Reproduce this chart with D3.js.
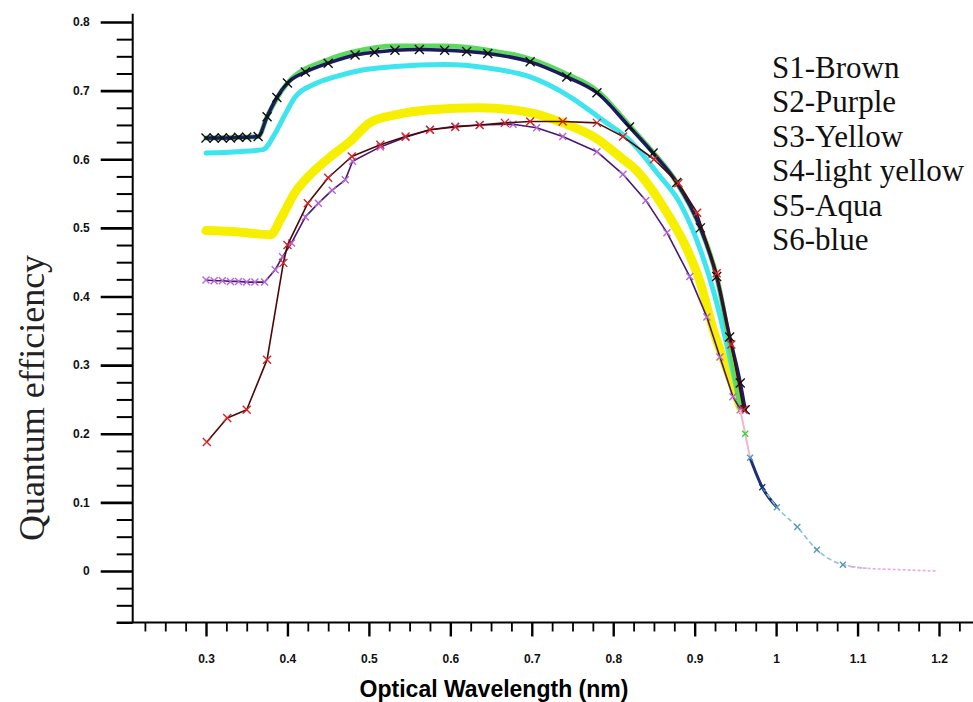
<!DOCTYPE html>
<html>
<head>
<meta charset="utf-8">
<script src="https://cdn.jsdelivr.net/npm/d3@7"></script>
<style>
  body { margin: 0; background: #fff; }
  svg { display: block; }
  .tick text { font-family: "Liberation Sans", Arial, sans-serif; font-weight: bold; font-size: 12px; fill: #111; }
</style>
</head>
<body>
<svg id="chart" width="973" height="702"></svg>
<script>
const WIDTH = 973, HEIGHT = 702;

// wavelength (nm as labelled) / quantum efficiency
const wlS1 = [0.301, 0.326, 0.35, 0.375, 0.395, 0.40, 0.425, 0.45, 0.479, 0.514, 0.545, 0.575, 0.606, 0.636, 0.667, 0.698, 0.738, 0.78, 0.812, 0.85, 0.88, 0.903, 0.927, 0.945, 0.96];
const qeS1 = [0.188, 0.223, 0.235, 0.308, 0.449, 0.475, 0.536, 0.573, 0.604, 0.621, 0.633, 0.643, 0.647, 0.65, 0.653, 0.655, 0.655, 0.653, 0.633, 0.600, 0.565, 0.522, 0.434, 0.33, 0.235];

const wlS2 = [0.30, 0.31, 0.32, 0.33, 0.34, 0.35, 0.36, 0.372, 0.385, 0.394, 0.405, 0.422, 0.438, 0.455, 0.471, 0.48, 0.514, 0.545, 0.575, 0.606, 0.636, 0.677, 0.706, 0.738, 0.78, 0.812, 0.84, 0.866, 0.894, 0.915, 0.931, 0.947, 0.956];
const qeS2 = [0.424, 0.423, 0.423, 0.422, 0.422, 0.421, 0.421, 0.421, 0.439, 0.458, 0.478, 0.516, 0.536, 0.555, 0.57, 0.597, 0.618, 0.632, 0.643, 0.648, 0.65, 0.651, 0.646, 0.633, 0.611, 0.578, 0.54, 0.493, 0.429, 0.37, 0.312, 0.254, 0.235];

const wlS3 = [0.30, 0.34, 0.379, 0.393, 0.409, 0.425, 0.45, 0.477, 0.501, 0.534, 0.575, 0.636, 0.698, 0.738, 0.78, 0.812, 0.824, 0.866, 0.891, 0.907, 0.923, 0.94, 0.956];
const qeS3 = [0.496, 0.494, 0.49, 0.516, 0.551, 0.574, 0.601, 0.626, 0.653, 0.665, 0.672, 0.675, 0.668, 0.653, 0.63, 0.60, 0.589, 0.522, 0.468, 0.42, 0.351, 0.293, 0.239];

const wlS4 = [0.30, 0.364, 0.375, 0.40, 0.45, 0.483, 0.532, 0.593, 0.646, 0.698, 0.743, 0.78, 0.82, 0.849, 0.878, 0.907, 0.927, 0.956];
const qeS4 = [0.631, 0.633, 0.662, 0.711, 0.745, 0.757, 0.765, 0.765, 0.759, 0.746, 0.724, 0.70, 0.649, 0.61, 0.566, 0.50, 0.429, 0.235];

const wlS5 = [0.30, 0.34, 0.37, 0.385, 0.397, 0.409, 0.434, 0.458, 0.492, 0.532, 0.593, 0.646, 0.698, 0.747, 0.787, 0.82, 0.854, 0.882, 0.907, 0.925, 0.941, 0.952, 0.958];
const qeS5 = [0.609, 0.611, 0.614, 0.638, 0.665, 0.69, 0.71, 0.72, 0.73, 0.735, 0.738, 0.733, 0.72, 0.691, 0.657, 0.628, 0.58, 0.536, 0.468, 0.40, 0.322, 0.264, 0.235];

const wlS6 = [0.30, 0.31, 0.32, 0.33, 0.34, 0.35, 0.364, 0.375, 0.387, 0.40, 0.422, 0.45, 0.483, 0.507, 0.532, 0.562, 0.593, 0.62, 0.646, 0.698, 0.743, 0.78, 0.82, 0.849, 0.878, 0.907, 0.927, 0.943, 0.956, 0.962];
const qeS6 = [0.631, 0.631, 0.631, 0.631, 0.632, 0.632, 0.633, 0.662, 0.69, 0.711, 0.727, 0.74, 0.752, 0.756, 0.759, 0.76, 0.759, 0.757, 0.754, 0.742, 0.72, 0.697, 0.647, 0.609, 0.566, 0.50, 0.429, 0.341, 0.274, 0.235];

// faint common tail beyond the bundle
const tailWl = [0.956, 0.962, 0.968, 0.983, 1.001, 1.026, 1.05, 1.082, 1.111, 1.15, 1.198];
const tailQe = [0.235, 0.20, 0.165, 0.122, 0.093, 0.064, 0.031, 0.009, 0.004, 0.002, 0.0];

const legendLabels = ["S1-Brown", "S2-Purple", "S3-Yellow", "S4-light yellow", "S5-Aqua", "S6-blue"];
const xTicks = [0.3, 0.4, 0.5, 0.6, 0.7, 0.8, 0.9, 1, 1.1, 1.2];
const xTickLabels = ["0.3", "0.4", "0.5", "0.6", "0.7", "0.8", "0.9", "1", "1.1", "1.2"];
const yTicks = [0, 0.1, 0.2, 0.3, 0.4, 0.5, 0.6, 0.7, 0.8];
const yTickLabels = ["0", "0.1", "0.2", "0.3", "0.4", "0.5", "0.6", "0.7", "0.8"];

const svg = d3.select("#chart");

let x = d3.scaleLinear().domain([0.3, 1.2]).range([206, 939]);
let y = d3.scaleLinear().domain([0, 0.8]).range([571, 22]);
const xMin = 0.21, yMin = -0.075, yMax = 0.812;

// ---- axes
const xMinor = d3.range(0.225, 1.26, 0.025).filter(v => !xTicks.some(t => Math.abs(t - v) < 1e-6));
const yMinor = d3.range(-0.075, 0.81, 0.025).filter(v => !yTicks.some(t => Math.abs(t - v) < 1e-6));

const yAxisX = x(xMin), xAxisY = y(yMin);

const yMajor = svg.append("g").attr("transform", "translate(" + yAxisX + ",0)")
  .call(d3.axisLeft(y).tickValues(yTicks).tickSize(32).tickPadding(11).tickFormat((d, i) => yTickLabels[i]));
const yMin_ = svg.append("g").attr("transform", "translate(" + yAxisX + ",0)")
  .call(d3.axisLeft(y).tickValues(yMinor).tickSize(16).tickFormat(""));
const xMajor = svg.append("g").attr("transform", "translate(0," + xAxisY + ")")
  .call(d3.axisBottom(x).tickValues(xTicks).tickSize(14).tickPadding(18).tickFormat((d, i) => xTickLabels[i]));
const xMin_ = svg.append("g").attr("transform", "translate(0," + xAxisY + ")")
  .call(d3.axisBottom(x).tickValues(xMinor).tickSize(9).tickFormat(""));

[yMajor, yMin_, xMajor, xMin_].forEach(g => {
  g.select(".domain").remove();
  g.attr("font-family", null).attr("font-size", null);
});
yMajor.selectAll("line").attr("stroke", "#000").attr("stroke-width", 2.6);
yMin_.selectAll("line").attr("stroke", "#000").attr("stroke-width", 2);
xMajor.selectAll("line").attr("stroke", "#000").attr("stroke-width", 2.4);
xMin_.selectAll("line").attr("stroke", "#000").attr("stroke-width", 1.8);

svg.append("line").attr("x1", yAxisX).attr("x2", yAxisX).attr("y1", y(yMax)).attr("y2", xAxisY)
  .attr("stroke", "#000").attr("stroke-width", 2);
svg.append("line").attr("x1", yAxisX - 16).attr("x2", WIDTH).attr("y1", xAxisY).attr("y2", xAxisY)
  .attr("stroke", "#000").attr("stroke-width", 2);

// ---- titles
svg.append("text")
  .attr("x", 494).attr("y", 697)
  .attr("text-anchor", "middle")
  .style("font-family", "'Liberation Sans', Arial, sans-serif")
  .style("font-weight", "bold").style("font-size", "23px")
  .text("Optical Wavelength (nm)");

svg.append("text")
  .attr("transform", "translate(44,398) rotate(-90)")
  .attr("text-anchor", "middle")
  .style("font-family", "'Liberation Serif', 'Times New Roman', serif")
  .style("font-size", "36px").style("fill", "#222")
  .text("Quantum efficiency");

// ---- series
const series = [
  {wl: wlS3, qe: qeS3, color: "#f6f000", width: 9, curve: d3.curveMonotoneX},
  {wl: wlS5, qe: qeS5, color: "#3ee4ee", width: 5, curve: d3.curveMonotoneX},
  {wl: wlS4, qe: qeS4, color: "#5fd85f", width: 5, curve: d3.curveMonotoneX},
  {wl: wlS6, qe: qeS6, color: "#1b1b5e", width: 3.5, curve: d3.curveMonotoneX, mark: "#111", markSize: 4.5},
  {wl: wlS2, qe: qeS2, color: "#4a1870", width: 1.6, curve: d3.curveLinear, mark: "#b466d8", markSize: 3.5},
  {wl: wlS1, qe: qeS1, color: "#4d0808", width: 1.6, curve: d3.curveLinear, mark: "#d42424", markSize: 4}
];

function xMark(r) { return "M" + (-r) + "," + (-r) + "L" + r + "," + r + "M" + r + "," + (-r) + "L" + (-r) + "," + r; }

series.forEach(s => {
  const pts = s.wl.map((w, i) => [w, s.qe[i]]);
  let line = d3.line().x(d => x(d[0])).y(d => y(d[1])).curve(s.curve);
  svg.append("path")
    .attr("d", line(pts))
    .attr("fill", "none")
    .attr("stroke", s.color)
    .attr("stroke-width", s.width)
    .attr("stroke-linejoin", "round")
    .attr("stroke-linecap", "round");
  if (s.mark) {
    svg.append("g").selectAll("path")
      .data(pts)
      .join("path")
        .attr("transform", d => "translate(" + x(d[0]) + "," + y(d[1]) + ")")
        .attr("d", xMark(s.markSize))
        .attr("stroke", s.mark)
        .attr("stroke-width", 1.4)
        .attr("fill", "none");
  }
});

// tail
const tailPts = tailWl.map((w, i) => [w, tailQe[i]]);
const tailLine = d3.line().x(d => x(d[0])).y(d => y(d[1])).curve(d3.curveMonotoneX);
const tailParts = [
  {from: 0, to: 2, color: "#f2b8c8", width: 2, dash: null},
  {from: 2, to: 4, color: "#1b2f7a", width: 3, dash: null},
  {from: 3, to: 8, color: "#86c3d8", width: 1.6, dash: "5,3"},
  {from: 7, to: 10, color: "#e9a9e9", width: 1.6, dash: "3,2"}
];
tailParts.forEach(p => {
  svg.append("path")
    .attr("d", tailLine(tailPts.slice(p.from, p.to + 1)))
    .attr("fill", "none")
    .attr("stroke", p.color)
    .attr("stroke-width", p.width)
    .attr("stroke-dasharray", p.dash);
});
svg.append("g").selectAll("path")
  .data(tailPts.slice(1, 8))
  .join("path")
    .attr("transform", d => "translate(" + x(d[0]) + "," + y(d[1]) + ")")
    .attr("d", xMark(3))
    .attr("stroke", (d, i) => i === 0 ? "#3dcf3d" : (i === 2 ? "#1b2f7a" : "#5a9ab8"))
    .attr("stroke-width", 1.4)
    .attr("fill", "none");

// ---- legend
svg.append("g").selectAll("text")
  .data(legendLabels)
  .join("text")
    .attr("x", 772)
    .attr("y", (d, i) => 78 + i * 34.4)
    .style("font-family", "'Liberation Serif', 'Times New Roman', serif")
    .style("font-size", "31px")
    .style("fill", "#111")
    .text(d => d);
</script>
</body>
</html>
